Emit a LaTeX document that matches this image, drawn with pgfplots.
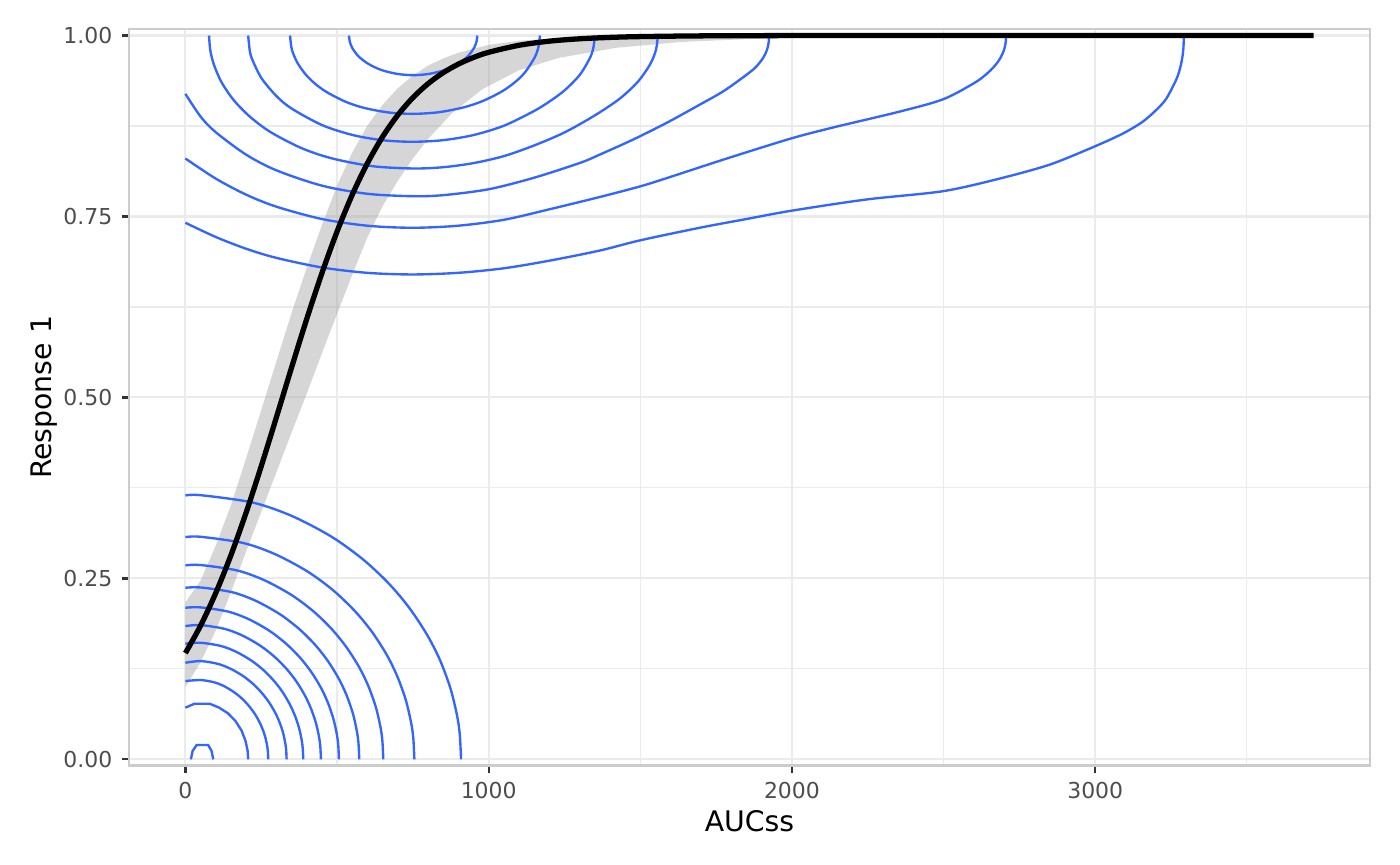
\documentclass[border=0pt]{standalone}
\usepackage{fontspec}
\setmainfont{DejaVu Sans}
\usepackage{pgfplots}
\pgfplotsset{compat=1.18}
\definecolor{cblue}{HTML}{3366FF}
\definecolor{gridc}{HTML}{EBEBEB}
\definecolor{borderc}{HTML}{CCCCCC}
\definecolor{tickc}{HTML}{333333}
\definecolor{labc}{HTML}{4D4D4D}
\definecolor{grey60}{HTML}{999999}
\begin{document}
\begin{tikzpicture}
\path[use as bounding box] (-46.44pt,-35.64pt) rectangle (457.6pt,275.74pt);
\begin{axis}[
 at={(0,0)}, anchor=south west,
 scale only axis, width=446.8pt, height=265.3pt,
 xmin=-186, xmax=3906, ymin=-0.009, ymax=1.009,
 xtick={0,1000,2000,3000}, xticklabels={0,1000,2000,3000},
 ytick={0,0.25,0.5,0.75,1}, yticklabels={0.00,0.25,0.50,0.75,1.00},
 minor xtick={500,1500,2500,3500}, minor ytick={0.125,0.375,0.625,0.875},
 grid=both,
 major grid style={draw=gridc, line width=0.75pt},
 minor grid style={draw=gridc, line width=0.4pt},
 tick align=outside, xtick pos=bottom, ytick pos=left,
 major tick length=2.5pt, minor tick length=0pt,
 tick style={draw=tickc, line width=0.8pt},
 axis line style={draw=borderc, line width=1pt},
 /pgf/number format/assume math mode=true,
 ticklabel style={font=\fontsize{7.9}{9}\selectfont, text=labc},
 label style={font=\fontsize{10.2}{12}\selectfont},
 xlabel={AUCss}, ylabel={Response 1},
 xlabel style={at={(axis description cs:0.5,-0.0897)}, anchor=base},
 ylabel style={at={(axis description cs:-0.0624,0.5)}, anchor=base},
]
% confidence band
\addplot[draw=none, fill=grey60, fill opacity=0.4] coordinates {
(0,0.217) (25,0.232) (50,0.2469) (100,0.2953) (150,0.3509) (200,0.4158) (250,0.4825) (300,0.5498) (350,0.6166) (400,0.6792) (450,0.7379) (500,0.7925) (550,0.8382) (600,0.8754) (650,0.9042) (700,0.9269) (750,0.9446) (800,0.9585) (850,0.9682) (900,0.9763) (1000,0.9870) (1100,0.9928) (1250,0.9970) (1500,0.9993) (2000,1.0) (3720,1.0)
(3720,1.0) (2600,0.9995) (2100,0.998) (1850,0.995) (1630,0.991) (1420,0.983) (1230,0.969) (1100,0.952) (980,0.926) (880,0.893) (800,0.857) (750,0.830) (700,0.799) (650,0.7641) (600,0.7211) (550,0.6693) (500,0.6154) (450,0.5609) (400,0.505) (350,0.4514) (300,0.3965) (250,0.3419) (200,0.287) (150,0.2306) (100,0.178) (50,0.1341) (0,0.0998)
} -- cycle;
% lower density contours
\addplot[cblue, line width=0.85pt, smooth] coordinates {(0,0.3646) (50,0.365) (221.8,0.3548) (350.7,0.3363) (479.5,0.3082) (582.6,0.2773) (668.5,0.2439) (737.2,0.2099) (797.3,0.1718) (840.3,0.1363) (874.6,0.0972) (896.1,0.0598) (904.7,0.0346) (909,0)};
\addplot[cblue, line width=0.85pt, smooth] coordinates {(0,0.3071) (50,0.3075) (191,0.2989) (296.8,0.2833) (402.5,0.2596) (487.1,0.2336) (557.6,0.2054) (614,0.1769) (663.4,0.1448) (698.6,0.1148) (726.8,0.0819) (744.4,0.0503) (751.5,0.0292) (755,0)};
\addplot[cblue, line width=0.85pt, smooth] coordinates {(0,0.2680) (50,0.2685) (170.5,0.2610) (260.9,0.2474) (351.3,0.2267) (423.6,0.2040) (483.8,0.1794) (532,0.1544) (574.2,0.1264) (604.3,0.1002) (628.4,0.0715) (643.5,0.0440) (649.5,0.0255) (652.5,0)};
\addplot[cblue, line width=0.85pt, smooth] coordinates {(0,0.2371) (50,0.2375) (154.7,0.2309) (233.2,0.2188) (311.7,0.2005) (374.4,0.1804) (426.8,0.1587) (468.6,0.1366) (505.3,0.1118) (531.4,0.0887) (552.4,0.0632) (565.4,0.0389) (570.7,0.0225) (573.3,0)};
\addplot[cblue, line width=0.85pt, smooth] coordinates {(0,0.2095) (50,0.2100) (141.3,0.2041) (209.7,0.1935) (278.2,0.1773) (332.9,0.1595) (378.5,0.1403) (415,0.1208) (447,0.0989) (469.8,0.0784) (488,0.0559) (499.5,0.0344) (504,0.0199) (506.3,0)};
\addplot[cblue, line width=0.85pt, smooth] coordinates {(0,0.1842) (50,0.1855) (129.4,0.1803) (188.9,0.1709) (248.5,0.1566) (296.1,0.1409) (335.8,0.1239) (367.5,0.1067) (395.3,0.0873) (415.1,0.0692) (431,0.0494) (440.9,0.0304) (444.9,0.0176) (446.9,0)};
\addplot[cblue, line width=0.85pt, smooth] coordinates {(0,0.1598) (50,0.1611) (117.7,0.1566) (168.5,0.1484) (219.3,0.1360) (259.9,0.1224) (293.8,0.1076) (320.9,0.0927) (344.6,0.0758) (361.5,0.0601) (375.1,0.0429) (383.5,0.0264) (386.9,0.0153) (388.6,0)};
\addplot[cblue, line width=0.85pt, smooth] coordinates {(0,0.1335) (50,0.1358) (106.7,0.1320) (149.3,0.1251) (191.9,0.1147) (225.9,0.1032) (254.3,0.0907) (277,0.0781) (296.8,0.0639) (311,0.0507) (322.4,0.0362) (329.4,0.0222) (332.3,0.0129) (333.7,0)};
\addplot[cblue, line width=0.85pt, smooth] coordinates {(0,0.1082) (50,0.1096) (94.6,0.1065) (128.1,0.1010) (161.6,0.0925) (188.4,0.0833) (210.7,0.0732) (228.6,0.0630) (244.2,0.0516) (255.3,0.0409) (264.3,0.0292) (269.9,0.0179) (272.1,0.0104) (273.2,0)};
\addplot[cblue, line width=0.85pt] coordinates {(0,0.0714) (30,0.0769) (80,0.0769) (110,0.0717) (140,0.0638) (165,0.053) (185,0.0399) (198,0.026) (205,0.0124) (207.2,0)};
\addplot[cblue, line width=0.85pt] coordinates {(18.1,0) (23.6,0.0115) (36.8,0.0198) (75.3,0.0198) (86.3,0.0115) (91.8,0)};
% upper density contours
\addplot[cblue, line width=0.85pt, smooth] coordinates {(539.5,1) (541.6,0.9923) (550,0.9829) (571.2,0.9711) (603,0.9609) (645.3,0.9525) (698.1,0.9470) (751,0.9452) (803.9,0.9470) (856.8,0.9525) (899.1,0.9609) (930.8,0.9711) (951.9,0.9829) (960.4,0.9923) (962.5,1)};
\addplot[cblue, line width=0.85pt, smooth] coordinates {(345,1) (349.1,0.9844) (355.2,0.9754) (369.4,0.9623) (393.7,0.9476) (426.2,0.9339) (466.8,0.9216) (527.7,0.9086) (588.6,0.9001) (669.8,0.8937) (751,0.8918) (834.6,0.8940) (918.2,0.9008) (980.9,0.9096) (1043.6,0.9227) (1085.4,0.9351) (1118.8,0.9486) (1152,0.970) (1164.7,0.985) (1169,1)};
\addplot[cblue, line width=0.85pt, smooth] coordinates {(207,1) (212.4,0.9788) (220.6,0.9667) (251,0.941) (301,0.916) (351,0.8989) (451,0.8762) (551,0.8626) (651,0.8553) (751,0.8532) (851,0.8555) (951,0.8626) (1051,0.8755) (1151,0.896) (1201,0.909) (1251,0.9245) (1301,0.946) (1335,0.970) (1346,0.985) (1350,1)};
\addplot[cblue, line width=0.85pt, smooth] coordinates {(78,1) (81.9,0.980) (93.8,0.960) (118.4,0.9360) (158.8,0.9110) (212.6,0.8879) (279.9,0.8668) (380.9,0.8448) (481.8,0.8304) (616.4,0.8195) (751,0.8163) (851,0.8181) (951,0.8238) (1051,0.8335) (1151,0.8483) (1251,0.8663) (1351,0.8899) (1431,0.9124) (1491,0.9357) (1532,0.960) (1551.5,0.980) (1558,1)};
\addplot[cblue, line width=0.85pt, smooth] coordinates {(0,0.9194) (51,0.8875) (101,0.8661) (201,0.8352) (301,0.8136) (451,0.7925) (601,0.7813) (751,0.7780) (851,0.7795) (1001,0.7877) (1151,0.8037) (1301,0.8240) (1367,0.8356) (1477,0.8564) (1587,0.8794) (1697,0.9047) (1770,0.922) (1829,0.9392) (1877.5,0.955) (1905,0.9691) (1917.5,0.980) (1923.1,0.990) (1924.5,1)};
\addplot[cblue, line width=0.85pt, smooth] coordinates {(0,0.8301) (101,0.8021) (201,0.7800) (301,0.7634) (451,0.7464) (601,0.7372) (751,0.7344) (901,0.7373) (1051,0.7455) (1201,0.7600) (1367,0.7770) (1499,0.7915) (1587,0.8030) (1700,0.8185) (1807,0.8330) (1999,0.8580) (2136,0.8730) (2356,0.8950) (2499,0.9120) (2603.5,0.935) (2646,0.9485) (2672.5,0.960) (2688.7,0.970) (2699.2,0.980) (2704.6,0.990) (2706,1)};
\addplot[cblue, line width=0.85pt, smooth] coordinates {(0,0.7413) (101,0.7215) (201,0.7053) (301,0.6927) (451,0.6795) (601,0.6721) (751,0.6699) (901,0.6722) (1051,0.6785) (1201,0.6890) (1367,0.7030) (1499,0.7170) (1697,0.7345) (1850,0.7465) (1999,0.7580) (2246,0.7735) (2499,0.7850) (2686,0.8025) (2851,0.8218) (3000,0.8471) (3093,0.865) (3159,0.8817) (3208,0.900) (3236,0.9139) (3268,0.940) (3280,0.9553) (3287.3,0.970) (3291.1,0.985) (3292,1)};
% logistic fit
\addplot[black, line width=1.9pt, smooth] coordinates {(0,0.1468) (50,0.1847) (100,0.2297) (150,0.2819) (200,0.3407) (250,0.4049) (300,0.4725) (350,0.5412) (400,0.6083) (450,0.6715) (500,0.7291) (550,0.7799) (600,0.8234) (650,0.8600) (700,0.8899) (750,0.9141) (800,0.9334) (850,0.9486) (900,0.9605) (950,0.9697) (1000,0.9768) (1100,0.9865) (1200,0.9922) (1300,0.9955) (1400,0.9974) (1500,0.9985) (1700,0.9995) (2000,0.9999) (2500,1.0) (3720,1.0)};
\end{axis}
\end{tikzpicture}
\end{document}
